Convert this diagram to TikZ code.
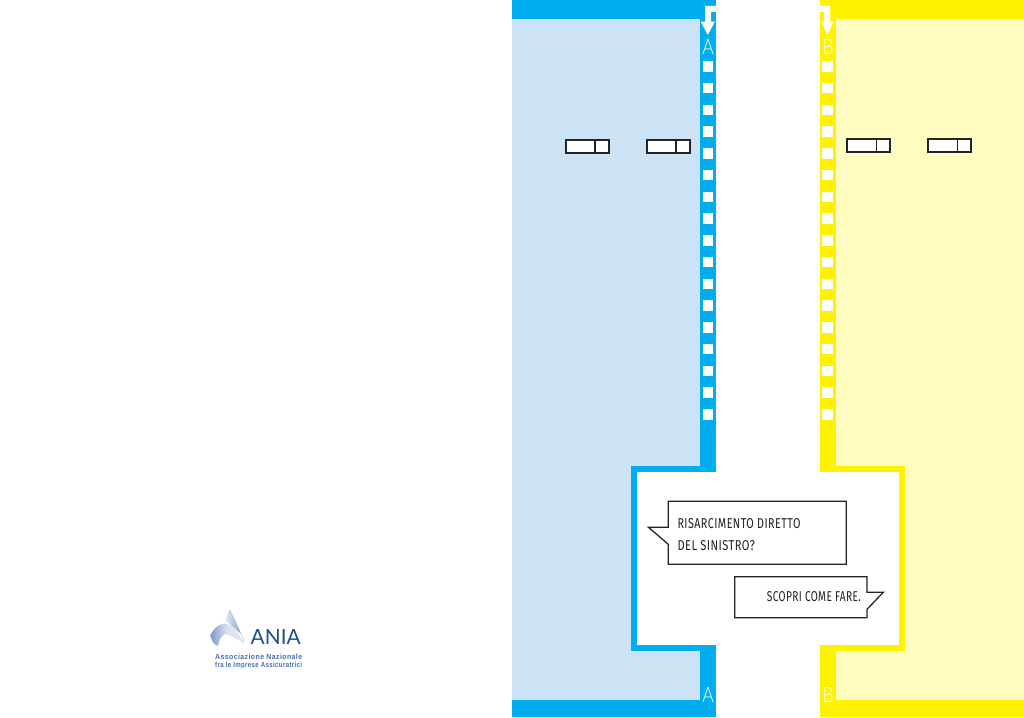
\documentclass[tikz,border=0pt]{standalone}
\usepackage{fontspec}
\usepackage{graphicx}
\setmainfont[LetterSpace=4]{Fira Sans}
\newfontfamily\lab[UprightFont=* Light]{Lato}
\newfontfamily\logo[LetterSpace=6]{Liberation Sans}
\newfontfamily\logob{Lato}
\definecolor{cy}{HTML}{00AEEF}
\definecolor{lcy}{HTML}{CCE3F5}
\definecolor{ye}{HTML}{FFF200}
\definecolor{lye}{HTML}{FFFCC0}
\definecolor{ink}{HTML}{232323}
\definecolor{aniab}{HTML}{1F4F8F}
\definecolor{aniat}{HTML}{4A70A8}
\definecolor{rib}{HTML}{A9BBDD}
\definecolor{ribd}{HTML}{7F98C9}
\definecolor{ribl}{HTML}{DDE4F2}
\tikzset{
  x=1pt,y=-1pt,
  slotbox/.style={draw=ink,line width=2pt,fill=white},
  bubble/.style={draw=ink,line width=1.3pt,fill=white,line join=miter},
  bubtext/.style={anchor=base west,inner sep=0pt,text=ink},
  letter/.style={anchor=base,inner sep=0pt,text=white,font=\lab}
}
\newcommand{\bigletter}[1]{\resizebox{!}{15pt}{\resizebox{0.82\width}{\height}{#1}}}
\begin{document}
\begin{tikzpicture}
\useasboundingbox (0,0) rectangle (1024,717);
\fill[white] (0,0) rectangle (1024,717);
% panels
\fill[cy] (512,0) rectangle (716,717);
\fill[lcy] (512,19.5) rectangle (700,699.5);
\fill[ye] (820,0) rectangle (1024,717);
\fill[lye] (835.5,19.5) rectangle (1024,699.5);
% frame
\fill[cy] (631,466) rectangle (716,651);
\fill[ye] (820,466) rectangle (905,651);
\fill[white] (637,472) rectangle (899,645);
\fill[white] (716,645) rectangle (820,717);
% squares
\foreach \i in {0,...,16}{
  \fill[white] (702.7,{61.2+21.75*\i}) rectangle +(10.6,10.4);
  \fill[white] (822.3,{61.2+21.75*\i}) rectangle +(10.6,10.4);
}
% arrows
\fill[white] (716,6) -- (705,6) -- (705,21.7) -- (700.7,21.7) -- (707.8,35) -- (714.8,21.7) -- (711,21.7) -- (711,12) -- (716,12) -- cycle;
\fill[white] (820,6) -- (830,6) -- (830,21.7) -- (833.5,21.7) -- (827.3,35) -- (821.5,21.7) -- (824,21.7) -- (824,12) -- (820,12) -- cycle;
% letters
\node[letter] (at) at (708,55) {\bigletter{A}};
\node[letter] (bt) at (828,55) {\bigletter{B}};
\node[letter] (ab) at (708,702.5) {\bigletter{A}};
\node[letter] (bb) at (828,702.5) {\bigletter{B}};
% slots
\foreach \a/\b/\c/\t/\e in {565.5/595/608.5/139.5/153,646.5/676/689.5/139.5/153,847/876.7/890/138.7/151.7,928.3/957.3/971/138.7/151.7}{
  \draw[slotbox] (\a,\t) rectangle (\c,\e);
  \draw[ink,line width=1.2pt] (\b,\t) -- (\b,\e);
}
% bubbles
\draw[bubble] (668.3,501.3) -- (846.3,501.3) -- (846.3,564.3) -- (668.3,564.3) -- (668.3,544.3) -- (648.5,527.3) -- (668.3,527.3) -- cycle;
\draw[bubble] (734.7,576.7) -- (867,576.7) -- (867,592.3) -- (883.3,592.3) -- (867,609.3) -- (867,617.7) -- (734.7,617.7) -- cycle;
\node[bubtext] (t1) at (677.3,528.3) {\resizebox{123pt}{10pt}{RISARCIMENTO DIRETTO}};
\node[bubtext] (t2) at (677.3,550.7) {\resizebox{77.5pt}{10pt}{DEL SINISTRO?}};
\node[bubtext] (t3) at (766.7,601) {\resizebox{94pt}{10pt}{SCOPRI COME FARE.}};
% logo
\shade[left color=ribl,right color=ribd] (230,609) .. controls (228,613) and (226,617) .. (226,621) .. controls (230,624) and (236,630) .. (241,634) .. controls (243,637) and (244,640) .. (244.5,643) .. controls (241,632) and (235,620) .. (230,609) -- cycle;
\shade[left color=ribd,right color=ribl,middle color=ribl] (210.5,635) .. controls (214,628) and (220,622) .. (228,624) .. controls (234,627) and (240,636) .. (244.5,643) .. controls (238,640) and (232,636) .. (226,634) .. controls (222,634) and (219,640) .. (218,646) .. controls (214,645) and (211,640) .. (210.5,635) -- cycle;
\node[anchor=base west,inner sep=0pt,text=aniab] (an) at (250.5,644.5) {\logob\resizebox{50pt}{15pt}{ANIA}};
\node[anchor=base west,inner sep=0pt,text=aniat] (l1) at (215,659) {\logo\bfseries\resizebox{87pt}{5.5pt}{Associazione Nazionale}};
\node[anchor=base west,inner sep=0pt,text=aniat] (l2) at (215,667.7) {\logo\bfseries\resizebox{87pt}{5.5pt}{fra le Imprese Assicuratrici}};
\end{tikzpicture}
\end{document}
